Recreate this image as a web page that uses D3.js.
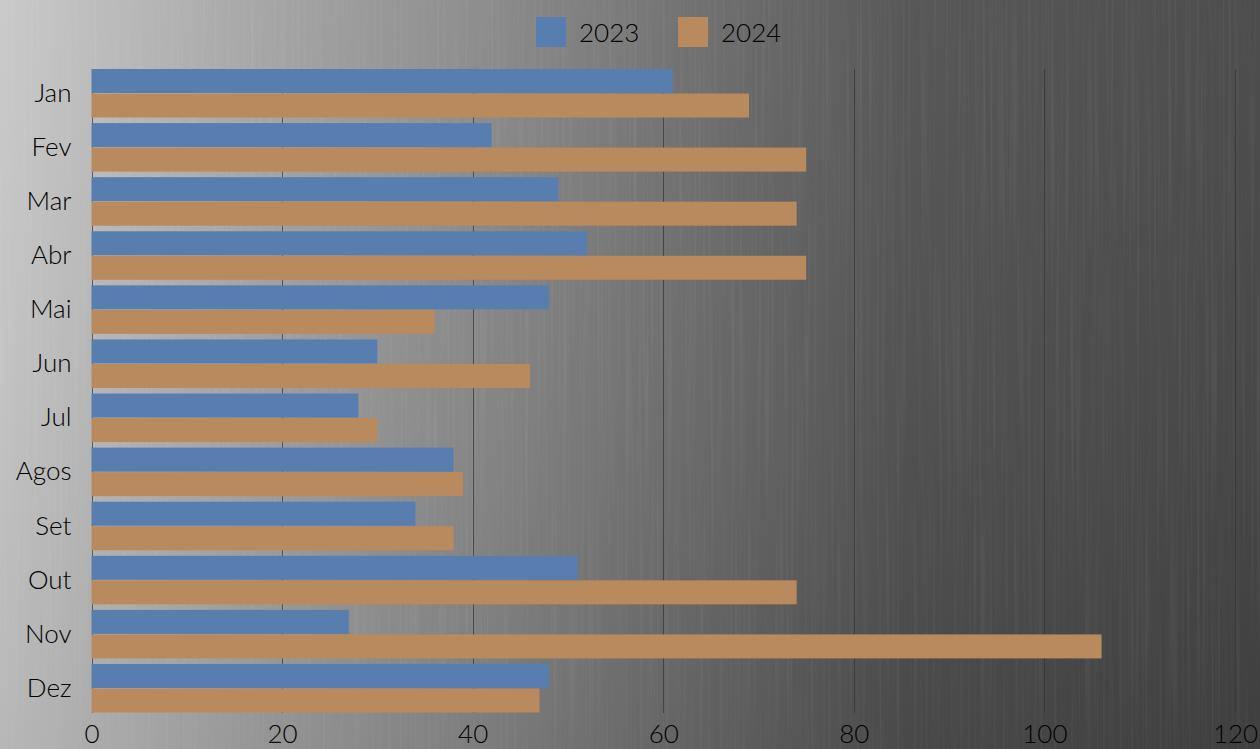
<!DOCTYPE html>
<html>
<head>
<meta charset="utf-8">
<script src="https://cdn.jsdelivr.net/npm/d3@7"></script>
<style>
  html, body { margin: 0; padding: 0; background: #777; }
  svg { display: block; }
  text { font-family: Lato, "Open Sans", sans-serif; font-weight: 300; fill: #000; }
</style>
</head>
<body>
<svg id="chart" width="1260" height="749"></svg>
<script>
const categories = ["Jan","Fev","Mar","Abr","Mai","Jun","Jul","Agos","Set","Out","Nov","Dez"];
const seriesNames = ["2023","2024"];
const values2023 = [61, 42, 49, 52, 48, 30, 28, 38, 34, 51, 27, 48];
const values2024 = [69, 75, 74, 75, 36, 46, 30, 39, 38, 74, 106, 47];
const xTicks = [0, 20, 40, 60, 80, 100, 120];
const colors = ["#587eb0", "#b98a5e"];

const W = 1260, H = 749;
const margin = { left: 91.5, right: 25, top: 69, bottom: 36 };
const svg = d3.select("#chart");
const defs = svg.append("defs");

// background gradient
const g1 = defs.append("linearGradient").attr("id", "bgH").attr("x1", 0).attr("x2", 1).attr("y1", 0).attr("y2", 0);
[[0, "#c7c7c7"], [0.2, "#a3a3a3"], [0.4, "#848484"], [0.55, "#6a6a6a"], [0.72, "#4f4f4f"], [1, "#444444"]]
  .forEach(([o, c]) => g1.append("stop").attr("offset", o).attr("stop-color", c));
const g2 = defs.append("linearGradient").attr("id", "bgV").attr("x1", 0).attr("x2", 0).attr("y1", 0).attr("y2", 1);
g2.append("stop").attr("offset", 0).attr("stop-color", "#fff").attr("stop-opacity", 0.05);
g2.append("stop").attr("offset", 1).attr("stop-color", "#000").attr("stop-opacity", 0.08);

// brushed streak texture (deterministic turbulence)
const f = defs.append("filter").attr("id", "streaks").attr("x", 0).attr("y", 0).attr("width", 1).attr("height", 1);
f.append("feTurbulence").attr("type", "fractalNoise").attr("baseFrequency", "0.35 0.004").attr("numOctaves", 2).attr("seed", 3).attr("result", "n");
f.append("feColorMatrix").attr("in", "n").attr("type", "matrix")
  .attr("values", "0 0 0 0 1  0 0 0 0 1  0 0 0 0 1  1.2 0 0 0 -0.55");

svg.append("rect").attr("width", W).attr("height", H).attr("fill", "url(#bgH)");
svg.append("rect").attr("width", W).attr("height", H).attr("filter", "url(#streaks)").attr("opacity", 0.12);
svg.append("rect").attr("width", W).attr("height", H).attr("fill", "url(#bgV)");

const x = d3.scaleLinear().domain([0, 120]).range([margin.left, W - margin.right]);
const y = d3.scaleBand().domain(categories).range([margin.top, H - margin.bottom])
  .paddingInner(0.094).paddingOuter(0);
const ySub = d3.scaleBand().domain(seriesNames).range([0, y.bandwidth()]).padding(0);

// gridlines
svg.append("g").selectAll("line").data(xTicks).join("line")
  .attr("x1", d => Math.round(x(d)) + 0.5).attr("x2", d => Math.round(x(d)) + 0.5)
  .attr("y1", margin.top).attr("y2", H - margin.bottom)
  .attr("stroke", "#333").attr("stroke-opacity", 0.7).attr("stroke-width", 1);

// bars
const data = categories.map((c, i) => ({ cat: c, vals: [values2023[i], values2024[i]] }));
const grp = svg.append("g").selectAll("g").data(data).join("g")
  .attr("transform", d => `translate(0,${y(d.cat)})`);
grp.selectAll("rect").data(d => d.vals.map((v, j) => ({ v, s: seriesNames[j], j })))
  .join("rect")
  .attr("x", x(0))
  .attr("y", d => ySub(d.s))
  .attr("width", d => x(d.v) - x(0))
  .attr("height", ySub.bandwidth() - 0.5)
  .attr("fill", d => colors[d.j]);

// x axis labels
const xAxis = d3.axisBottom(x).tickValues(xTicks).tickSize(0).tickPadding(0);
const xg = svg.append("g").attr("transform", `translate(0,${H - margin.bottom})`).call(xAxis);
xg.select(".domain").remove();
xg.selectAll("text").attr("font-size", 26).attr("dy", null).attr("y", 30)
  .attr("font-family", "Lato, sans-serif").attr("font-weight", 300).attr("fill", "#000");

// y axis labels
const yAxis = d3.axisLeft(y).tickSize(0).tickPadding(20);
const yg = svg.append("g").attr("transform", `translate(${margin.left},0)`).call(yAxis);
yg.select(".domain").remove();
yg.selectAll("text").attr("font-size", 26).attr("font-family", "Lato, sans-serif").attr("font-weight", 300).attr("fill", "#000");

// legend
const legend = svg.append("g");
const legX = [536, 678];
seriesNames.forEach((s, i) => {
  legend.append("rect").attr("x", legX[i]).attr("y", 17).attr("width", 30).attr("height", 30).attr("fill", colors[i]);
  legend.append("text").attr("x", legX[i] + 43).attr("y", 42).attr("font-size", 26).text(s);
});
</script>
</body>
</html>
